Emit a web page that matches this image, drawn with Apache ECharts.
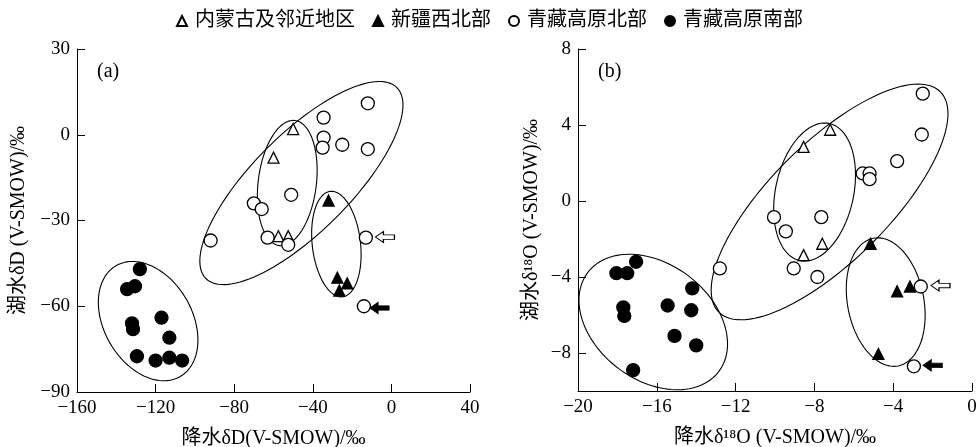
<!DOCTYPE html>
<html><head><meta charset="utf-8">
<script src="https://cdn.jsdelivr.net/npm/echarts@6/dist/echarts.min.js"></script>
<style>html,body{margin:0;padding:0;background:#fff}#c{width:979px;height:447px}</style>
</head><body><div id="c"></div>
<script>
const seriesNames = ['内蒙古及邻近地区', '新疆西北部', '青藏高原北部', '青藏高原南部'];
// Panel (a): precipitation δD vs lake δD
const a_nmg = [[-50,2],[-60,-8],[-57.5,-35.5],[-52.5,-35.5]];
const a_xj = [[-32,-23],[-27.5,-50],[-22.5,-52],[-26.5,-54.5]];
const a_qzb = [[-12,11],[-34.5,6],[-34.5,-1],[-35,-4.5],[-25,-3.5],[-12,-5],[-51,-21],[-70,-24],[-66,-26],[-92,-37],[-63,-36],[-52.5,-38.5],[-13,-36],[-14,-60]];
const a_qzs = [[-128,-47],[-134.5,-54],[-130.5,-53],[-132,-66],[-131.5,-68],[-117,-64],[-113,-71],[-129.5,-77.5],[-120,-79],[-113,-78],[-106.5,-79]];
// Panel (b): precipitation δ18O vs lake δ18O
const b_nmg = [[-8.55,2.85],[-7.2,3.75],[-7.6,-2.25],[-8.55,-2.85]];
const b_xj = [[-5.15,-2.25],[-3.8,-4.75],[-3.15,-4.5],[-4.75,-8.05]];
const b_qzb = [[-2.5,5.65],[-2.55,3.5],[-3.8,2.1],[-5.55,1.45],[-5.2,1.45],[-5.2,1.15],[-10.05,-0.85],[-7.65,-0.85],[-9.45,-1.6],[-12.8,-3.55],[-9.05,-3.55],[-7.85,-4],[-2.6,-4.5],[-2.95,-8.7]];
const b_qzs = [[-17.05,-3.2],[-18.05,-3.8],[-17.5,-3.8],[-17.7,-5.6],[-17.65,-6.05],[-15.45,-5.5],[-14.2,-4.6],[-14.25,-5.75],[-15.1,-7.1],[-14,-7.6],[-17.2,-8.9]];
// Tick labels
const a_xTicks = [-160,-120,-80,-40,0,40];
const a_yTicks = [-90,-60,-30,0,30];
const b_xTicks = [-20,-16,-12,-8,-4,0];
const b_yTicks = [-8,-4,0,4,8];
// Ellipses: [centerX, centerY, radiusPoint1X, radiusPoint1Y, radiusPoint2X, radiusPoint2Y] (conjugate radii, data units)
const a_ellipses = [[-45.8,-16.9,2.8,16.5,-28.2,-29],[-53,-16.9,-49.1,5,-38.3,-18.1],[-28,-38.25,-31.1,-19.8,-15.8,-37.3],[-123.8,-65.2,-107.5,-84.6,-104.4,-57.5]];
const b_ellipses = [[-7.23,-0.05,-1.61,5.75,-5.1,-2.25],[-7.99,0.47,-7.25,4.08,-6.05,0.05],[-4.38,-5.32,-5.01,-1.96,-2.48,-4.93],[-16.18,-6.37,-12.85,-8.97,-14.41,-3.93]];
// Arrow markers
const a_openArrow = [[-3.3,-35.8]];
const a_fillArrow = [[-6.1,-60.6]];
const b_openArrow = [[-1.6,-4.45]];
const b_fillArrow = [[-2.0,-8.65]];

const serif = '"Liberation Serif","Times New Roman","Noto Sans CJK SC",serif';
const arrowPath = 'path://M0,5 L8,0 L8,3 L19,3 L19,7 L8,7 L8,10 Z';
const fmt = v => String(v).replace('-', '\u2212');

function axisCommon(min, max, ticks, name, nameGap, gi) {
  return {
    type: 'value', min, max, gridIndex: gi,
    name, nameLocation: 'middle', nameGap,
    nameTextStyle: { fontFamily: serif, fontSize: 20, color: '#000' },
    axisLine: { show: true, onZero: false, lineStyle: { color: '#000', width: 1 } },
    axisTick: { show: true, inside: true, length: 8, lineStyle: { color: '#000' }, customValues: ticks },
    axisLabel: { formatter: fmt, fontFamily: serif, fontSize: 19, color: '#000', margin: 7, customValues: ticks },
    splitLine: { show: false }
  };
}
function ellipseSeries(data, gi) {
  return {
    type: 'custom', xAxisIndex: gi, yAxisIndex: gi, silent: true, clip: false, z: 1,
    data,
    encode: { x: 0, y: 1 },
    renderItem: function (params, api) {
      const c = api.coord([api.value(0), api.value(1)]);
      const p = api.coord([api.value(2), api.value(3)]);
      const q = api.coord([api.value(4), api.value(5)]);
      const A = [p[0]-c[0], p[1]-c[1]], B = [q[0]-c[0], q[1]-c[1]];
      const pts = [];
      for (let i = 0; i < 120; i++) {
        const t = i / 120 * Math.PI * 2;
        pts.push([c[0] + A[0]*Math.cos(t) + B[0]*Math.sin(t), c[1] + A[1]*Math.cos(t) + B[1]*Math.sin(t)]);
      }
      return { type: 'polygon', shape: { points: pts }, style: { fill: 'none', stroke: '#000', lineWidth: 1.1 } };
    }
  };
}
function scatter(name, data, gi, symbol, filled, size) {
  return {
    type: 'scatter', name, data, xAxisIndex: gi, yAxisIndex: gi, symbol, symbolSize: size, z: 3,
    itemStyle: { color: filled ? '#000' : '#fff', borderColor: '#000', borderWidth: 1.3, opacity: 1 }
  };
}
function arrow(data, gi, filled) {
  return {
    type: 'scatter', data, xAxisIndex: gi, yAxisIndex: gi, symbol: arrowPath, symbolSize: [19, 11], z: 3, silent: true,
    itemStyle: { color: filled ? '#000' : '#fff', borderColor: '#000', borderWidth: 1, opacity: 1 }
  };
}

const chart = echarts.init(document.getElementById('c'), null, { renderer: 'canvas' });
chart.setOption({
  animation: false,
  backgroundColor: '#fff',
  legend: {
    top: 6, left: 'center', itemWidth: 10, itemHeight: 10, itemGap: 17,
    data: seriesNames,
    textStyle: { fontFamily: serif, fontSize: 20, color: '#000', padding: [0, 0, 0, 3] }
  },
  title: [
    { text: '(a)', left: 92, top: 57, textStyle: { fontFamily: serif, fontSize: 20, fontWeight: 'normal', color: '#000' } },
    { text: '(b)', left: 593, top: 57, textStyle: { fontFamily: serif, fontSize: 20, fontWeight: 'normal', color: '#000' } }
  ],
  grid: [
    { left: 77, right: 509, top: 49, bottom: 55, containLabel: false, outerBoundsMode: 'none' },
    { left: 578, right: 7, top: 49, bottom: 56, containLabel: false, outerBoundsMode: 'none' }
  ],
  xAxis: [
    axisCommon(-160, 40, a_xTicks, '降水δD(V-SMOW)/‰', 37, 0),
    axisCommon(-20, 0, b_xTicks, '降水δ¹⁸O (V-SMOW)/‰', 37, 1)
  ],
  yAxis: [
    axisCommon(-90, 30, a_yTicks, '湖水δD (V-SMOW)/‰', 48, 0),
    axisCommon(-10, 8, b_yTicks, '湖水δ¹⁸O (V-SMOW)/‰', 36, 1)
  ],
  series: [
    ellipseSeries(a_ellipses, 0),
    ellipseSeries(b_ellipses, 1),
    scatter(seriesNames[0], a_nmg, 0, 'triangle', false, 11),
    scatter(seriesNames[1], a_xj, 0, 'triangle', true, 11),
    scatter(seriesNames[2], a_qzb, 0, 'circle', false, 13),
    scatter(seriesNames[3], a_qzs, 0, 'circle', true, 13),
    scatter(seriesNames[0], b_nmg, 1, 'triangle', false, 11),
    scatter(seriesNames[1], b_xj, 1, 'triangle', true, 11),
    scatter(seriesNames[2], b_qzb, 1, 'circle', false, 13),
    scatter(seriesNames[3], b_qzs, 1, 'circle', true, 13),
    arrow(a_openArrow, 0, false), arrow(a_fillArrow, 0, true),
    arrow(b_openArrow, 1, false), arrow(b_fillArrow, 1, true)
  ]
});
</script></body></html>
